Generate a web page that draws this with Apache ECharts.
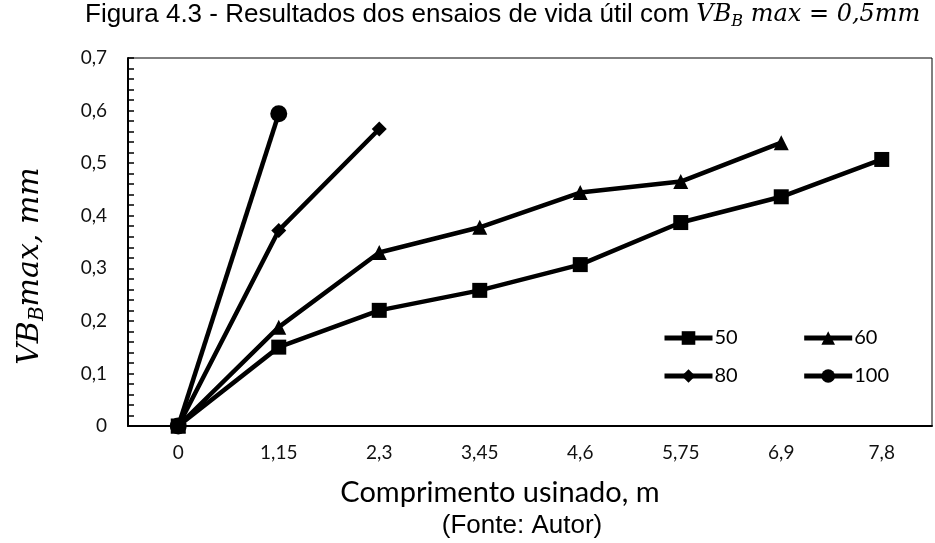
<!DOCTYPE html>
<html><head><meta charset="utf-8">
<script src="https://cdn.jsdelivr.net/npm/echarts@6/dist/echarts.min.js"></script>
<style>html,body{margin:0;padding:0;background:#fff}#chart{width:935px;height:543px}</style>
</head><body><div id="chart"></div>
<script>
// Comprimento usinado (m) – category labels
const categories = ['0', '1,15', '2,3', '3,45', '4,6', '5,75', '6,9', '7,8'];
// Desgaste VB_B max (mm) per cutting speed
const vc50 = [0, 0.150, 0.220, 0.258, 0.307, 0.387, 0.436, 0.507];
const vc60 = [0, 0.188, 0.330, 0.378, 0.444, 0.465, 0.539];
const vc80 = [0, 0.372, 0.565];
const vc100 = [0, 0.594];
const seriesNames = ['50', '60', '80', '100'];

const LAB = 'Lato';
const SERIF = 'DejaVu Serif';

const chart = echarts.init(document.getElementById('chart'), null, { renderer: 'canvas' });

function lineSeries(name, data, symbol, size) {
  return {
    name, type: 'line', data, symbol, symbolSize: size,
    xAxisIndex: 0, yAxisIndex: 0,
    showSymbol: true, animation: false,
    lineStyle: { color: '#000', width: 4.5 },
    itemStyle: { color: '#000', borderWidth: 0 },
    emphasis: { disabled: true }
  };
}

const legendCommon = {
  itemWidth: 48, itemHeight: 17, itemGap: 64,
  lineStyle: { width: 5, color: '#000' },
  textStyle: { fontFamily: LAB, fontSize: 20, color: '#000', padding: [0, 0, 0, -3] },
  selectedMode: false
};

chart.setOption({
  animation: false,
  backgroundColor: '#fff',
  grid: { left: 128, right: 3, top: 58, bottom: 117, show: true, borderColor: '#000', borderWidth: 1 },
  legend: [
    Object.assign({ data: [seriesNames[0], seriesNames[1]], left: 657, top: 323 }, legendCommon),
    Object.assign({ data: [seriesNames[2], seriesNames[3]], left: 657, top: 361 }, legendCommon)
  ],
  xAxis: [
    {
      type: 'category', data: categories, boundaryGap: true, position: 'bottom',
      axisLine: { lineStyle: { color: '#000', width: 2 } },
      axisTick: { inside: true, length: 8, lineStyle: { color: '#000', width: 2 } },
      axisLabel: { margin: 17, fontFamily: LAB, fontSize: 19, color: '#111' },
      splitLine: { show: false }
    },
    {
      type: 'category', data: categories, boundaryGap: true, position: 'bottom',
      axisLine: { show: false },
      axisTick: { alignWithLabel: true, inside: true, length: 5, lineStyle: { color: '#000', width: 2 } },
      axisLabel: { show: false },
      splitLine: { show: false }
    }
  ],
  yAxis: {
    type: 'value', min: 0, max: 0.7, interval: 0.1,
    axisLine: { show: true, lineStyle: { color: '#000', width: 2 } },
    axisTick: { show: true, inside: true, length: 6, lineStyle: { color: '#000', width: 1.5 } },
    minorTick: { show: true, splitNumber: 5, length: 6, lineStyle: { color: '#000', width: 1.5 } },
    axisLabel: {
      margin: 21, fontFamily: LAB, fontSize: 19, color: '#111',
      formatter: v => v === 0 ? '0' : v.toFixed(1).replace('.', ',')
    },
    splitLine: { show: false }
  },
  series: [
    lineSeries(seriesNames[0], vc50, 'rect', 15),
    lineSeries(seriesNames[1], vc60, 'triangle', 15),
    lineSeries(seriesNames[2], vc80, 'diamond', 15),
    lineSeries(seriesNames[3], vc100, 'circle', 17)
  ],
  graphic: [
    {
      type: 'text', left: 85, top: 2,
      style: {
        text: '{a|Figura 4.3 - Resultados dos ensaios de vida útil com }{m|VB}{s|B}{m| max = 0,5mm}',
        rich: {
          a: { fontFamily: 'Liberation Sans', fontSize: 26, fill: '#000' },
          m: { fontFamily: SERIF, fontStyle: 'italic', fontSize: 24, fill: '#000' },
          s: { fontFamily: SERIF, fontStyle: 'italic', fontSize: 16, fill: '#000', padding: [14, 0, 0, 0] }
        }
      }
    },
    {
      type: 'text', x: 30, y: 266, rotation: Math.PI / 2,
      style: {
        text: '{m|VB}{s|B}{m|max, mm}',
        align: 'center', verticalAlign: 'middle',
        rich: {
          m: { fontFamily: SERIF, fontStyle: 'italic', fontSize: 30, fill: '#000' },
          s: { fontFamily: SERIF, fontStyle: 'italic', fontSize: 20, fill: '#000', padding: [16, 0, 0, 0] }
        }
      }
    },
    {
      type: 'text', x: 500, y: 493,
      style: { text: 'Comprimento usinado, m', align: 'center', verticalAlign: 'middle', fontFamily: LAB, fontSize: 29, fill: '#000' }
    },
    {
      type: 'text', x: 522, y: 526,
      style: { text: '(Fonte: Autor)', align: 'center', verticalAlign: 'middle', fontFamily: 'Liberation Sans', fontSize: 26, fill: '#000' }
    }
  ]
});
</script>
</body></html>
